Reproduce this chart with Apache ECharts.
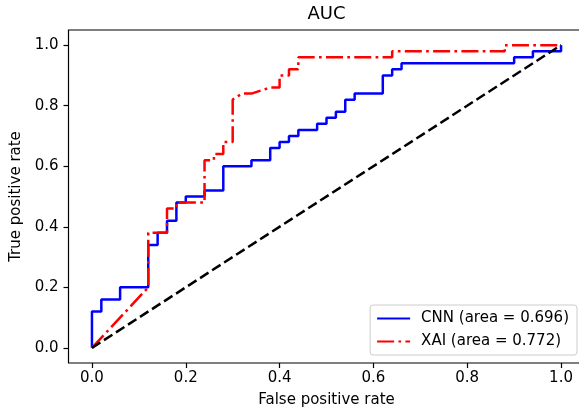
<!DOCTYPE html>
<html>
<head>
<meta charset="utf-8">
<title>AUC</title>
<script src="https://cdn.jsdelivr.net/npm/echarts@6/dist/echarts.min.js"></script>
<style>
    html, body { margin: 0; padding: 0; background: #fff; }
    #chart-roc { width: 579px; height: 414px; }
</style>
</head>
<body>
<div id="chart-roc"></div>
<script>
// ROC points
var cnnFpr = [0, 0, 0.02, 0.02, 0.06, 0.06, 0.12, 0.12, 0.14, 0.14, 0.16, 0.16, 0.18, 0.18, 0.20, 0.20,
    0.24, 0.24, 0.28, 0.28, 0.34, 0.34, 0.38, 0.38, 0.40, 0.40, 0.42, 0.42, 0.44, 0.44, 0.48, 0.48,
    0.50, 0.50, 0.52, 0.52, 0.54, 0.54, 0.56, 0.56, 0.62, 0.62, 0.64, 0.64, 0.66, 0.66, 0.90, 0.90,
    0.94, 0.94, 1.0, 1.0];
var cnnTpr = [0, 0.12, 0.12, 0.16, 0.16, 0.20, 0.20, 0.34, 0.34, 0.38, 0.38, 0.42, 0.42, 0.48, 0.48, 0.50,
    0.50, 0.52, 0.52, 0.60, 0.60, 0.62, 0.62, 0.66, 0.66, 0.68, 0.68, 0.70, 0.70, 0.72, 0.72, 0.74,
    0.74, 0.76, 0.76, 0.78, 0.78, 0.82, 0.82, 0.84, 0.84, 0.90, 0.90, 0.92, 0.92, 0.94, 0.94, 0.96,
    0.96, 0.98, 0.98, 1.0];

var xaiFpr = [0, 0.12, 0.12, 0.16, 0.16, 0.18, 0.18, 0.24, 0.24, 0.26, 0.26, 0.28, 0.28, 0.30, 0.30,
    0.32, 0.34, 0.38, 0.40, 0.40, 0.42, 0.42, 0.44, 0.44, 0.64, 0.64, 0.88, 0.88, 1.0];
var xaiTpr = [0, 0.20, 0.38, 0.38, 0.46, 0.46, 0.48, 0.48, 0.62, 0.62, 0.64, 0.64, 0.68, 0.68, 0.82,
    0.84, 0.84, 0.86, 0.86, 0.90, 0.90, 0.92, 0.92, 0.96, 0.96, 0.98, 0.98, 1.0, 1.0];

var chanceFpr = [0, 1];
var chanceTpr = [0, 1];

var seriesNames = ['CNN (area = 0.696)', 'XAI (area = 0.772)'];
var tickValues = [0, 0.2, 0.4, 0.6, 0.8, 1.0];

function pairs(xs, ys) {
    var out = [];
    for (var i = 0; i < xs.length; i++) {
        out.push([xs[i], ys[i]]);
    }
    return out;
}

var FONT = 'DejaVu Sans';

// [ ROC chart ] start
var dom = document.getElementById('chart-roc');
var myChart = echarts.init(dom, null, { renderer: 'canvas' });

var axisCommon = {
    type: 'value',
    min: -0.05,
    max: 1.05,
    splitLine: { show: false },
    axisLine: { show: false, onZero: false },
    axisTick: {
        show: true,
        length: 5,
        customValues: tickValues,
        lineStyle: { color: '#000', width: 1.2 }
    },
    nameLocation: 'middle',
    nameTextStyle: { color: '#000', fontFamily: FONT, fontSize: 15 }
};

var option = {
    animation: false,
    backgroundColor: '#fff',
    title: {
        text: 'AUC',
        left: 326.5,
        top: 5,
        padding: 0,
        textAlign: 'center',
        textStyle: { color: '#000', fontFamily: FONT, fontSize: 18, fontWeight: 'normal' }
    },
    grid: {
        left: 68.5,
        top: 30,
        width: 516,
        height: 333,
        show: true,
        borderColor: '#000',
        borderWidth: 1.2,
        backgroundColor: 'transparent',
        outerBoundsMode: 'none',
        containLabel: false
    },
    legend: {
        data: seriesNames,
        orient: 'vertical',
        right: 2,
        top: 305,
        itemWidth: 33,
        itemHeight: 14,
        itemGap: 8,
        padding: [6, 8, 6, 6],
        borderColor: '#cccccc',
        borderWidth: 1,
        borderRadius: 3,
        backgroundColor: 'rgba(255,255,255,0.8)',
        itemStyle: { color: 'transparent', borderWidth: 0, opacity: 0 },
        textStyle: { color: '#000', fontFamily: FONT, fontSize: 15, padding: [0, 0, 0, 6] }
    },
    xAxis: Object.assign({}, axisCommon, {
        name: 'False positive rate',
        nameGap: 30,
        axisLabel: {
            customValues: tickValues,
            margin: 8,
            color: '#000',
            fontFamily: FONT,
            fontSize: 15,
            formatter: function (v) { return v.toFixed(1); }
        }
    }),
    yAxis: Object.assign({}, axisCommon, {
        name: 'True positive rate',
        nameGap: 37,
        nameRotate: 90,
        axisLabel: {
            customValues: tickValues,
            margin: 10,
            color: '#000',
            fontFamily: FONT,
            fontSize: 15,
            formatter: function (v) { return v.toFixed(1); }
        }
    }),
    series: [
        {
            name: seriesNames[0],
            type: 'line',
            data: pairs(cnnFpr, cnnTpr),
            symbol: 'circle',
            showSymbol: false,
            lineStyle: { color: '#0000ff', width: 2.5 },
            itemStyle: { color: '#0000ff' },
            z: 3
        },
        {
            name: seriesNames[1],
            type: 'line',
            data: pairs(xaiFpr, xaiTpr),
            symbol: 'circle',
            showSymbol: false,
            lineStyle: { color: '#ff0000', width: 2.5, type: [17, 4.3, 2.7, 4.3] },
            itemStyle: { color: '#ff0000' },
            z: 4
        },
        {
            name: 'chance',
            type: 'line',
            data: pairs(chanceFpr, chanceTpr),
            symbol: 'none',
            lineStyle: { color: '#000', width: 2.5, type: [10, 4.3] },
            itemStyle: { color: '#000' },
            z: 5
        }
    ]
};

if (option && typeof option === 'object') {
    myChart.setOption(option);
}
// [ ROC chart ] end
</script>
</body>
</html>
